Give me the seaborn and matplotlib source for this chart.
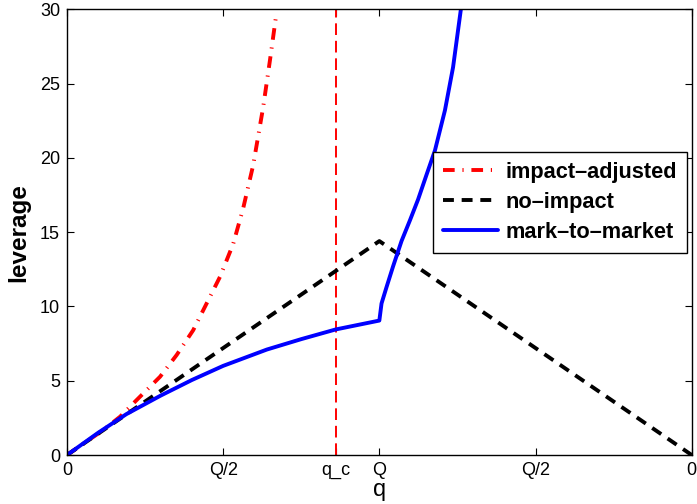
import matplotlib
matplotlib.use("Agg")
import matplotlib.pyplot as plt
import seaborn as sns

# data (x in units where Q = 1, right end = 2)
q_impact = [0.0, 0.116, 0.17, 0.223, 0.298, 0.351, 0.404, 0.447, 0.49, 0.532,
            0.564, 0.596, 0.628, 0.65, 0.669]
lev_impact = [0.0, 1.68, 2.58, 3.7, 5.27, 6.73, 8.4, 10.2, 12.0, 14.2,
              16.6, 19.5, 23.4, 26.6, 29.5]

q_noimpact = [0.0, 1.0, 2.0]
lev_noimpact = [0.0, 14.4, 0.0]

q_mtm = [0.0, 0.1, 0.19, 0.3, 0.4, 0.5, 0.64, 0.75, 0.86, 1.0, 1.007, 1.023,
         1.044, 1.071, 1.098, 1.124, 1.15, 1.178, 1.21, 1.236, 1.261]
lev_mtm = [0.0, 1.5, 2.75, 4.0, 5.05, 6.0, 7.1, 7.8, 8.45, 9.05, 10.2, 11.3,
           12.7, 14.4, 15.8, 17.2, 18.8, 20.5, 23.2, 26.1, 30.0]

q_c = 0.86
x_ticks = [0, 0.5, q_c, 1.0, 1.5, 2.0]
x_ticklabels = ['0', 'Q/2', 'q_c', 'Q', 'Q/2', '0']
y_ticks = [0, 5, 10, 15, 20, 25, 30]

sns.set_style("ticks")
plt.rcParams['font.family'] = ['Liberation Sans', 'DejaVu Sans']
plt.rcParams['text.color'] = 'black'
plt.rcParams['axes.labelcolor'] = 'black'

fig = plt.figure(figsize=(6.97, 5.04), dpi=100)
ax = fig.add_axes([0.0961, 0.0972, 0.8963, 0.8843])

# vertical line at q_c
ax.axvline(q_c, color='red', linewidth=1.4, dashes=(6, 3))

sns.lineplot(x=q_impact, y=lev_impact, ax=ax, color='red', linewidth=2.8,
             label='impact–adjusted')
ax.lines[-1].set_dashes((3.0, 2.0, 0.3, 2.0))

sns.lineplot(x=q_noimpact, y=lev_noimpact, ax=ax, color='black', linewidth=2.8,
             label='no–impact')
ax.lines[-1].set_dashes((2.8, 2.0))

sns.lineplot(x=q_mtm, y=lev_mtm, ax=ax, color='blue', linewidth=2.8,
             label='mark–to–market')

ax.set_xlim(0, 2)
ax.set_ylim(0, 30)
ax.set_xticks(x_ticks)
ax.set_xticklabels(x_ticklabels)
ax.set_yticks(y_ticks)
ax.tick_params(direction='in', length=5, width=0.8, top=True, right=True,
               labelsize=13, pad=5, colors='black')
for s in ax.spines.values():
    s.set_linewidth(1.0)
    s.set_color('black')

ax.set_xlabel('q', fontsize=17, labelpad=0, color='black')
ax.set_ylabel('leverage', fontsize=17.5, fontweight='bold', labelpad=7,
              color='black')

leg = ax.legend(loc='upper right', bbox_to_anchor=(0.992, 0.680),
                prop={'weight': 'bold', 'size': 15.7}, frameon=True,
                fancybox=False, edgecolor='black', framealpha=1,
                handlelength=2.5, borderpad=0.45, labelspacing=0.42,
                handletextpad=0.35, borderaxespad=0)
leg.get_frame().set_linewidth(1.0)
for t in leg.get_texts():
    t.set_color('black')

fig.savefig('out.png', dpi=100)
